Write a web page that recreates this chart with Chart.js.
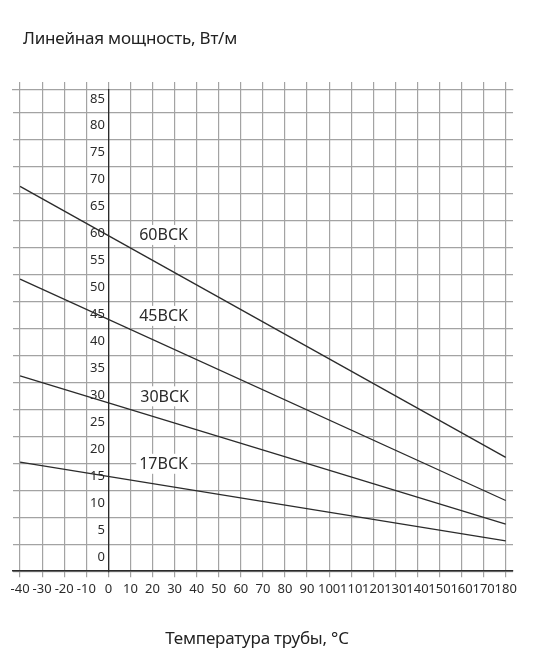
<!DOCTYPE html>
<html>
<head>
<meta charset="utf-8">
<script src="https://cdn.jsdelivr.net/npm/chart.js@4"></script>
<style>
  html, body { margin: 0; padding: 0; background: #fff; }
  #wrap { position: relative; width: 541px; height: 670px; }
  #powerChart { position: absolute; left: 0; top: 0; }
  .axis-name { position: absolute; font: 17px/20px "Noto Sans", sans-serif; color: #222; white-space: nowrap; letter-spacing: -0.2px; }
  #chartTitle { left: 23px; top: 28px; }
  #xTitle { left: 257px; top: 628px; transform: translateX(-50%); }
</style>
</head>
<body>
<div id="wrap">
  <canvas id="powerChart" width="541" height="670"></canvas>
  <div id="chartTitle" class="axis-name">Линейная мощность, Вт/м</div>
  <div id="xTitle" class="axis-name">Температура трубы, °C</div>
</div>
<script>
// ---- DATA ----
const temps = [-40, 180];                 // pipe temperature, °C
const power60 = [71.3, 21.1];             // W/m
const power45 = [54.1, 13.1];
const power30 = [36.2, 8.7];
const power17 = [20.2, 5.6];
const seriesNames = ["60BCK", "45BCK", "30BCK", "17BCK"];

// where each cable name is written (temperature, power)
const nameTemps = [25, 25, 25.5, 25];
const namePowers = [62.3, 47.3, 32.4, 19.9];

const xTicks = [-40, -30, -20, -10, 0, 10, 20, 30, 40, 50, 60, 70, 80, 90, 100, 110, 120, 130, 140, 150, 160, 170, 180];
const yTicks = [0, 5, 10, 15, 20, 25, 30, 35, 40, 45, 50, 55, 60, 65, 70, 75, 80, 85];

const GRID = "#a3a3a3";
const INK = "#2b2b2b";

Chart.defaults.font.family = '"Noto Sans", sans-serif';
Chart.defaults.color = INK;

function toPoints(ys) {
    return temps.map((t, i) => ({ x: t, y: ys[i] }));
}

// cable names with a white box behind them
const nameLabels = {
    id: "nameLabels",
    afterDatasetsDraw(chart) {
        const { ctx, scales: { x, y } } = chart;
        ctx.save();
        ctx.font = '16px "Noto Sans", sans-serif';
        ctx.textAlign = "center";
        ctx.textBaseline = "middle";
        seriesNames.forEach((name, i) => {
            const px = x.getPixelForValue(nameTemps[i]);
            const py = y.getPixelForValue(namePowers[i]);
            const w = ctx.measureText(name).width;
            ctx.fillStyle = "#fff";
            ctx.fillRect(px - w / 2 - 3, py - 10, w + 6, 20);
            ctx.fillStyle = INK;
            ctx.fillText(name, px, py + 1);
        });
        ctx.restore();
    }
};

const lineStyle = { borderColor: INK, borderWidth: 1.3, pointRadius: 0, fill: false, tension: 0 };

new Chart(document.getElementById("powerChart"), {
    type: "line",
    data: {
        datasets: [
            { label: seriesNames[0], data: toPoints(power60), ...lineStyle },
            { label: seriesNames[1], data: toPoints(power45), ...lineStyle },
            { label: seriesNames[2], data: toPoints(power30), ...lineStyle },
            { label: seriesNames[3], data: toPoints(power17), ...lineStyle }
        ]
    },
    plugins: [nameLabels],
    options: {
        responsive: false,
        animation: false,
        layout: { padding: { left: 13, right: 28, top: 82, bottom: 69.2 } },
        plugins: {
            legend: { display: false },
            tooltip: { enabled: false }
        },
        scales: {
            x: {
                type: "linear",
                min: -43.2,
                max: 183.3,
                afterBuildTicks: s => { s.ticks = xTicks.map(v => ({ value: v })); },
                grid: { color: GRID, lineWidth: 1.2, tickLength: 6 },
                border: { color: INK, width: 1.5 },
                ticks: { autoSkip: false, maxRotation: 0, padding: 4, font: { size: 13 } }
            },
            x2: {
                type: "linear",
                position: "top",
                min: -43.2,
                max: 183.3,
                afterBuildTicks: s => { s.ticks = xTicks.map(v => ({ value: v })); },
                grid: { color: GRID, lineWidth: 1.2, tickLength: 8, drawOnChartArea: false },
                border: { color: GRID, width: 1.2 },
                ticks: { display: false }
            },
            y: {
                type: "linear",
                position: { x: 0 },
                min: 0,
                max: 89.15,
                afterBuildTicks: s => { s.ticks = yTicks.map(v => ({ value: v })); },
                grid: { color: GRID, lineWidth: 1.2, drawTicks: false },
                border: { color: INK, width: 1.3 },
                // labels sit in the middle of each cell, a little left of the axis line
                ticks: { labelOffset: -13.6, font: { size: 13 }, callback: v => v + "\u00a0" }
            }
        }
    }
});
</script>
</body>
</html>
